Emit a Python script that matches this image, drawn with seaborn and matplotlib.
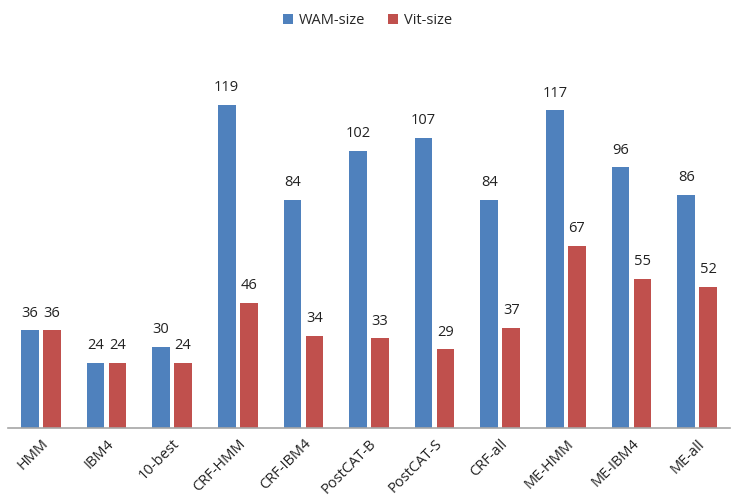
import matplotlib
matplotlib.use("Agg")
import matplotlib.pyplot as plt
import seaborn as sns
import pandas as pd

systems = ["HMM", "IBM4", "10-best", "CRF-HMM", "CRF-IBM4", "PostCAT-B",
           "PostCAT-S", "CRF-all", "ME-HMM", "ME-IBM4", "ME-all"]
wam_size = [36, 24, 30, 119, 84, 102, 107, 84, 117, 96, 86]
vit_size = [36, 24, 24, 46, 34, 33, 29, 37, 67, 55, 52]
series = ["WAM-size", "Vit-size"]
colors = ["#4F81BD", "#C0504D"]

df = pd.DataFrame({
    "system": systems * 2,
    "size": wam_size + vit_size,
    "series": [series[0]] * len(systems) + [series[1]] * len(systems),
})

sns.set_style("white")
plt.rcParams["font.family"] = ["Open Sans", "DejaVu Sans"]

fig = plt.figure(figsize=(7.35, 4.96), dpi=100)
ax = fig.add_axes([8 / 735, 68 / 496, 722 / 735, 380 / 496])

sns.barplot(data=df, x="system", y="size", hue="series", order=systems,
            hue_order=series, palette=colors, width=0.67, gap=0.2,
            saturation=1, linewidth=0, ax=ax, legend=True)

for cont in ax.containers:
    ax.bar_label(cont, padding=7, fontsize=10.5, color="#222222")

ax.set_ylim(0, 140)
ax.set_xlim(-0.5, len(systems) - 0.5)
ax.set_xlabel("")
ax.set_ylabel("")
ax.set_yticks([])
for s in ["left", "right", "top"]:
    ax.spines[s].set_visible(False)
ax.spines["bottom"].set_color("#A6A6A6")
ax.spines["bottom"].set_linewidth(1.2)
ax.tick_params(axis="x", length=0, pad=6)
plt.setp(ax.get_xticklabels(), rotation=45, ha="right",
         rotation_mode="anchor", fontsize=10.5, color="#222222")

handles, labels = ax.get_legend_handles_labels()
ax.legend_.remove()
fig.legend(handles, labels, loc="upper center", bbox_to_anchor=(0.5, 1.0),
           ncol=2, frameon=False, fontsize=10.5, handlelength=0.7,
           handleheight=0.7, handletextpad=0.4, columnspacing=1.6)

fig.savefig("out.png", dpi=100)
